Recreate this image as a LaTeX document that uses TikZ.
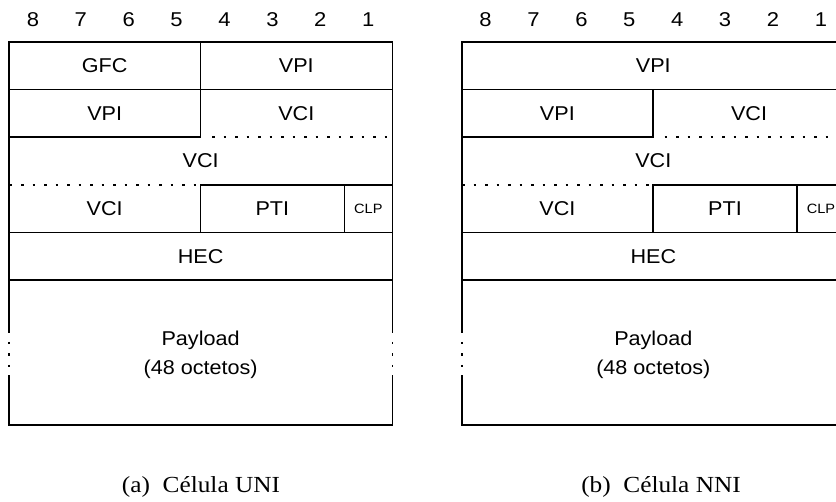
\documentclass[tikz,border=0pt]{standalone}
\usepackage{fontspec}
\setmainfont{Liberation Serif}
\newfontfamily\hvfont{Liberation Sans}
\begin{document}
\begin{tikzpicture}[x=1pt,y=-1pt,
  frame/.style={line width=1.6pt,line cap=rect},
  dotline/.style={line width=1.6pt,dash pattern=on 2.5pt off 9pt},
  fld/.style={font=\hvfont\fontsize{20}{23}\selectfont,inner sep=0pt,xscale=1.08},
  small/.style={font=\hvfont\fontsize{13.5}{15}\selectfont,inner sep=0pt,xscale=1.08},
  bitno/.style={font=\hvfont\fontsize{20}{23}\selectfont,inner sep=0pt,xscale=1.1},
  capt/.style={font=\fontsize{23}{26}\selectfont,inner sep=0pt,xscale=1.1}]
\useasboundingbox (0,0) rectangle (836,502);
\clip (0,0) rectangle (836,502);
% ---------- (a) UNI ----------
\begin{scope}
  \foreach \b [count=\i from 0] in {8,7,6,5,4,3,2,1}
    \node[bitno] (a-b\b) at ({9+23.9+\i*47.9},19.5) {\b};
  \draw[frame] (9,42) -- (392.3,42);
  \draw[frame] (9,89.7) -- (392.3,89.7);
  \draw[frame] (9,137.3) -- (200.3,137.3);
  \draw[frame] (200.3,185) -- (392.3,185);
  \draw[frame] (9,232.7) -- (392.3,232.7);
  \draw[frame] (9,280.3) -- (392.3,280.3);
  \draw[frame] (9,425) -- (392.3,425);
  \draw[frame] (200.3,42) -- (200.3,137.3);
  \draw[frame] (200.3,185) -- (200.3,232.7);
  \draw[frame] (344.3,185) -- (344.3,232.7);
  \draw[dotline] (212,137.3) -- (392,137.3);
  \draw[dotline] (9.5,185) -- (198,185);
  \draw[frame] (9,42) -- (9,332);
  \draw[frame] (9,376) -- (9,425);
  \draw[frame] (392.3,42) -- (392.3,332);
  \draw[frame] (392.3,376) -- (392.3,425);
  \draw[dotline] (9,342) -- (9,368);
  \draw[dotline] (392.3,342) -- (392.3,368);
  \node[fld] (a-gfc) at (104.7,66) {GFC};
  \node[fld] (a-vpi1) at (296.3,66) {VPI};
  \node[fld] (a-vpi2) at (104.7,113.5) {VPI};
  \node[fld] (a-vci1) at (296.3,113.5) {VCI};
  \node[fld] (a-vci2) at (200.6,161) {VCI};
  \node[fld] (a-vci3) at (104.7,209) {VCI};
  \node[fld] (a-pti) at (272.3,209) {PTI};
  \node[small] (a-clp) at (368.3,209) {CLP};
  \node[fld] (a-hec) at (200.6,256.5) {HEC};
  \node[fld] (a-pay) at (200.6,340) {Payload};
  \node[fld] (a-oct) at (200.6,369.5) {(48 octetos)};
  \node[capt] (a-cap) at (201,487) {(a)\ \ Célula UNI};
\end{scope}
% ---------- (b) NNI ----------
\begin{scope}[xshift=452.7]
  \foreach \b [count=\i from 0] in {8,7,6,5,4,3,2,1}
    \node[bitno] (b-b\b) at ({9+23.9+\i*47.9},19.5) {\b};
  \draw[frame] (9,42) -- (392.3,42);
  \draw[frame] (9,89.7) -- (392.3,89.7);
  \draw[frame] (9,137.3) -- (200.3,137.3);
  \draw[frame] (200.3,185) -- (392.3,185);
  \draw[frame] (9,232.7) -- (392.3,232.7);
  \draw[frame] (9,280.3) -- (392.3,280.3);
  \draw[frame] (9,425) -- (392.3,425);
  \draw[frame] (200.3,89.7) -- (200.3,137.3);
  \draw[frame] (200.3,185) -- (200.3,232.7);
  \draw[frame] (344.3,185) -- (344.3,232.7);
  \draw[dotline] (212,137.3) -- (392,137.3);
  \draw[dotline] (9.5,185) -- (198,185);
  \draw[frame] (9,42) -- (9,332);
  \draw[frame] (9,376) -- (9,425);
  \draw[frame] (392.3,42) -- (392.3,332);
  \draw[frame] (392.3,376) -- (392.3,425);
  \draw[dotline] (9,342) -- (9,368);
  \draw[dotline] (392.3,342) -- (392.3,368);
  \node[fld] (b-vpi1) at (200.6,66) {VPI};
  \node[fld] (b-vpi2) at (104.7,113.5) {VPI};
  \node[fld] (b-vci1) at (296.3,113.5) {VCI};
  \node[fld] (b-vci2) at (200.6,161) {VCI};
  \node[fld] (b-vci3) at (104.7,209) {VCI};
  \node[fld] (b-pti) at (272.3,209) {PTI};
  \node[small] (b-clp) at (368.3,209) {CLP};
  \node[fld] (b-hec) at (200.6,256.5) {HEC};
  \node[fld] (b-pay) at (200.6,340) {Payload};
  \node[fld] (b-oct) at (200.6,369.5) {(48 octetos)};
  \node[capt] (b-cap) at (208.3,487) {(b)\ \ Célula NNI};
\end{scope}
\end{tikzpicture}
\end{document}
